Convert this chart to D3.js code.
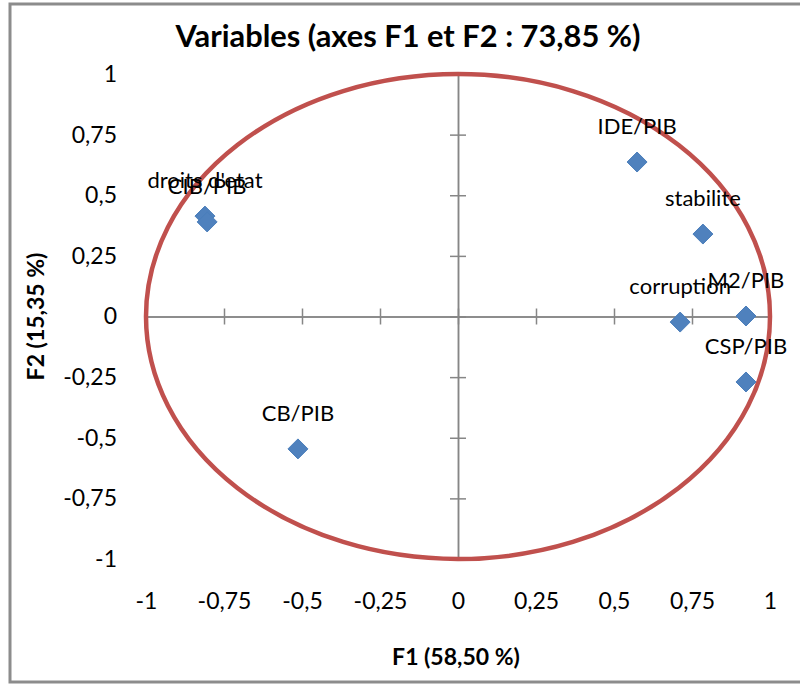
<!DOCTYPE html>
<html>
<head>
<meta charset="utf-8">
<script src="https://cdn.jsdelivr.net/npm/d3@7"></script>
<style>
  body { margin: 0; background: #fff; }
  text { font-family: Lato, "Open Sans", sans-serif; }
</style>
</head>
<body>
<div id="chart-area"></div>
<script>
// variables (labels, F1 coords, F2 coords)
let labels = ["IDE/PIB", "stabilite", "M2/PIB", "corruption", "CSP/PIB", "CB/PIB", "droits d'etat", "CIB/PIB"];
let f1 = [0.574, 0.785, 0.923, 0.712, 0.923, -0.513, -0.811, -0.804];
let f2 = [0.637, 0.340, 0.002, -0.023, -0.270, -0.546, 0.414, 0.390];
let ticks = [-1, -0.75, -0.5, -0.25, 0, 0.25, 0.5, 0.75, 1];

let fmt = d => String(d).replace(".", ",");

let svgCanvas = d3.select("#chart-area")
                    .append("svg")
                    .attr("width", 800)
                    .attr("height", 684)

// outer frame
svgCanvas.append("rect")
    .attr("x", 10)
    .attr("y", 4)
    .attr("width", 800)
    .attr("height", 678)
    .attr("fill", "white")
    .attr("stroke", "#8c8c8c")
    .attr("stroke-width", 3)

let x = d3.scaleLinear().domain([-1, 1]).range([146, 770]);
let y = d3.scaleLinear().domain([-1, 1]).range([559, 74]);

// axes crossing at zero, ticks on both sides
let axisColor = "#868686";
[d3.axisBottom(x), d3.axisTop(x)].forEach(ax => {
    svgCanvas.append("g")
        .attr("transform", "translate(0," + y(0) + ")")
        .call(ax.tickValues(ticks).tickSizeInner(8).tickSizeOuter(0).tickFormat(""))
});
[d3.axisLeft(y), d3.axisRight(y)].forEach(ax => {
    svgCanvas.append("g")
        .attr("transform", "translate(" + x(0) + ",0)")
        .call(ax.tickValues(ticks).tickSizeInner(8).tickSizeOuter(0).tickFormat(""))
});
svgCanvas.selectAll(".domain, .tick line")
    .attr("stroke", axisColor)
    .attr("stroke-width", 1.5)

// tick labels
let xLab = svgCanvas.append("g")
    .attr("transform", "translate(0,590)")
    .call(d3.axisBottom(x).tickValues(ticks).tickSize(0).tickFormat(fmt));
let yLab = svgCanvas.append("g")
    .attr("transform", "translate(120,0)")
    .call(d3.axisLeft(y).tickValues(ticks).tickSize(0).tickFormat(fmt));
[xLab, yLab].forEach(g => {
    g.select(".domain").remove();
    g.selectAll("text")
        .attr("font-size", 23)
        .attr("font-family", "Lato, sans-serif")
        .attr("fill", "#000")
});

// correlation circle
svgCanvas.append("ellipse")
    .attr("cx", x(0))
    .attr("cy", y(0))
    .attr("rx", x(1) - x(0))
    .attr("ry", y(0) - y(1))
    .attr("fill", "none")
    .attr("stroke", "#c0504d")
    .attr("stroke-width", 4.5)

// points
let data = labels.map((l, i) => ({label: l, f1: f1[i], f2: f2[i]}));

svgCanvas.selectAll("path.pt")
    .data(data)
    .enter().append("path")
    .attr("class", "pt")
    .attr("d", "M0,-10L10,0L0,10L-10,0Z")
    .attr("transform", d => "translate(" + x(d.f1) + "," + y(d.f2) + ")")
    .attr("fill", "#4f81bd")
    .attr("stroke", "#4a7ebb")
    .attr("stroke-width", 1)

svgCanvas.selectAll("text.lbl")
    .data(data)
    .enter().append("text")
    .attr("class", "lbl")
    .attr("x", d => x(d.f1))
    .attr("y", d => y(d.f2) - 28)
    .attr("text-anchor", "middle")
    .attr("font-size", 22)
    .attr("fill", "#000")
    .text(d => d.label)

// titles
svgCanvas.append("text")
    .attr("x", 408)
    .attr("y", 47)
    .attr("text-anchor", "middle")
    .attr("font-size", 31)
    .attr("font-weight", "bold")
    .attr("textLength", 465)
    .attr("lengthAdjust", "spacingAndGlyphs")
    .text("Variables (axes F1 et F2 : 73,85 %)")

svgCanvas.append("text")
    .attr("x", 456)
    .attr("y", 665)
    .attr("text-anchor", "middle")
    .attr("font-size", 23)
    .attr("font-weight", "bold")
    .text("F1 (58,50 %)")

svgCanvas.append("text")
    .attr("transform", "translate(44," + y(0) + ") rotate(-90)")
    .attr("text-anchor", "middle")
    .attr("font-size", 23)
    .attr("font-weight", "bold")
    .text("F2 (15,35 %)")
</script>
</body>
</html>
